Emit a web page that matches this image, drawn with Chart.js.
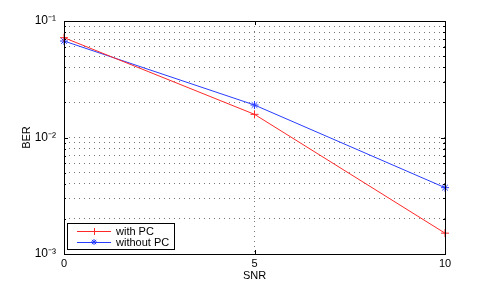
<!DOCTYPE html>
<html lang="en">
<head>
<meta charset="UTF-8">
<title>BER vs SNR</title>
<script src="https://cdn.jsdelivr.net/npm/chart.js"></script>
<style>
    html, body { margin: 0; padding: 0; background: #fff; }
    #wrap { width: 491px; height: 286px; }
</style>
</head>
<body>
<div id="wrap"><canvas id="grafico" width="491" height="286"></canvas></div>
<script>
    // data
    const snr = [0, 5, 10];
    const berWithPC = [0.0719, 0.0158, 0.00151];
    const berWithoutPC = [0.0673, 0.0190, 0.00371];
    const seriesNames = ["with PC", "without PC"];
    const xTicks = [0, 5, 10];
    const yMajor = [0.001, 0.01, 0.1];
    const yMajorLabels = ["10\u207B\u00B3", "10\u207B\u00B2", "10\u207B\u00B9"];
    const yMinor = [0.002, 0.003, 0.004, 0.005, 0.006, 0.007, 0.008, 0.009,
                    0.02, 0.03, 0.04, 0.05, 0.06, 0.07, 0.08, 0.09];

    const font = "Liberation Sans, Arial, sans-serif";

    function toPoints(xs, ys) {
        return xs.map((x, i) => ({ x: x, y: ys[i] }));
    }

    // box, inward ticks and legend like the original figure
    const matlabLook = {
        id: "matlabLook",
        afterDraw(chart) {
            const ctx = chart.ctx;
            const a = chart.chartArea;
            const xs = chart.scales.x, ys = chart.scales.y;
            ctx.save();
            ctx.strokeStyle = "#000";
            ctx.lineWidth = 1;
            // ticks
            ctx.beginPath();
            ys.ticks.forEach(t => {
                const y = Math.round(ys.getPixelForValue(t.value)) + 0.5;
                const len = yMajor.includes(t.value) ? 4 : 2;
                ctx.moveTo(a.left, y); ctx.lineTo(a.left + len, y);
                ctx.moveTo(a.right, y); ctx.lineTo(a.right - len, y);
            });
            xTicks.forEach(v => {
                const x = Math.round(xs.getPixelForValue(v)) + 0.5;
                ctx.moveTo(x, a.bottom); ctx.lineTo(x, a.bottom - 4);
                ctx.moveTo(x, a.top); ctx.lineTo(x, a.top + 4);
            });
            ctx.stroke();
            // box
            ctx.strokeRect(Math.round(a.left) + 0.5, Math.round(a.top) + 0.5,
                Math.round(a.right - a.left), Math.round(a.bottom - a.top));

            // legend
            const lx = a.left + 3, ly = a.bottom - 31, lw = 107, lh = 26;
            ctx.fillStyle = "#fff";
            ctx.fillRect(lx, ly, lw, lh);
            ctx.strokeRect(lx + 0.5, ly + 0.5, lw, lh);
            ctx.font = "11px " + font;
            ctx.textBaseline = "middle";
            chart.data.datasets.forEach((ds, i) => {
                const yy = ly + 8 + i * 11;
                ctx.strokeStyle = ds.borderColor;
                ctx.beginPath();
                ctx.moveTo(lx + 10, yy + 0.5); ctx.lineTo(lx + 44, yy + 0.5);
                ctx.stroke();
                const mx = lx + 27;
                ctx.beginPath();
                if (ds.pointStyle === "cross") {
                    ctx.moveTo(mx - 3, yy + 0.5); ctx.lineTo(mx + 3, yy + 0.5);
                    ctx.moveTo(mx + 0.5, yy - 3); ctx.lineTo(mx + 0.5, yy + 4);
                } else {
                    for (let k = 0; k < 4; k++) {
                        const ang = k * Math.PI / 4;
                        ctx.moveTo(mx - 3 * Math.cos(ang), yy - 3 * Math.sin(ang));
                        ctx.lineTo(mx + 3 * Math.cos(ang), yy + 3 * Math.sin(ang));
                    }
                }
                ctx.stroke();
                ctx.fillStyle = "#000";
                ctx.fillText(ds.label, lx + 49, yy + 1);
            });
            ctx.restore();
        }
    };

    const ctx = document.getElementById("grafico").getContext("2d");
    new Chart(ctx, {
        type: "line",
        data: {
            datasets: [
                {
                    label: seriesNames[0],
                    data: toPoints(snr, berWithPC),
                    borderColor: "rgb(255, 40, 40)",
                    backgroundColor: "rgb(255, 40, 40)",
                    borderWidth: 1,
                    pointStyle: "cross",
                    pointRadius: 4,
                    pointBorderWidth: 1,
                    tension: 0,
                    fill: false
                },
                {
                    label: seriesNames[1],
                    data: toPoints(snr, berWithoutPC),
                    borderColor: "rgb(40, 60, 255)",
                    backgroundColor: "rgb(40, 60, 255)",
                    borderWidth: 1,
                    pointStyle: "star",
                    pointRadius: 4,
                    pointBorderWidth: 1,
                    tension: 0,
                    fill: false
                }
            ]
        },
        options: {
            responsive: false,
            animation: false,
            clip: false,
            layout: { padding: { left: 0, right: 46, top: 21, bottom: 0 } },
            plugins: {
                legend: { display: false },
                tooltip: { enabled: false }
            },
            scales: {
                x: {
                    type: "linear",
                    min: 0,
                    max: 10,
                    afterBuildTicks: s => { s.ticks = xTicks.map(v => ({ value: v })); },
                    afterFit: s => { s.height = 32; },
                    border: { display: false, dash: [1, 4] },
                    grid: {
                        drawTicks: false,
                        color: ctx => (ctx.tick && ctx.tick.value === 5) ? "#777" : "rgba(0,0,0,0)",
                        lineWidth: 1
                    },
                    ticks: {
                        padding: 3,
                        color: "#000",
                        font: { family: font, size: 11 }
                    },
                    title: {
                        display: true,
                        text: "SNR",
                        color: "#000",
                        padding: { top: 0, bottom: 3 },
                        font: { family: font, size: 11 }
                    }
                },
                y: {
                    type: "logarithmic",
                    min: 0.001,
                    max: 0.1,
                    afterBuildTicks: s => {
                        s.ticks = yMajor.concat(yMinor).sort((p, q) => p - q).map(v => ({ value: v }));
                    },
                    afterFit: s => { s.width = 64; },
                    border: { display: false, dash: [1, 4] },
                    grid: {
                        drawTicks: false,
                        color: ctx => {
                            const v = ctx.tick ? ctx.tick.value : null;
                            if (v === 0.001 || v === 0.1) return "rgba(0,0,0,0)";
                            return "#777";
                        },
                        lineWidth: 1
                    },
                    ticks: {
                        autoSkip: false,
                        padding: 8,
                        color: "#000",
                        font: { family: font, size: 12 },
                        callback: v => {
                            const i = yMajor.indexOf(v);
                            return i >= 0 ? yMajorLabels[i] : "";
                        }
                    },
                    title: {
                        display: true,
                        text: "BER",
                        color: "#000",
                        padding: { top: 20, bottom: 0 },
                        font: { family: font, size: 11 }
                    }
                }
            }
        },
        plugins: [matlabLook]
    });
</script>
</body>
</html>
